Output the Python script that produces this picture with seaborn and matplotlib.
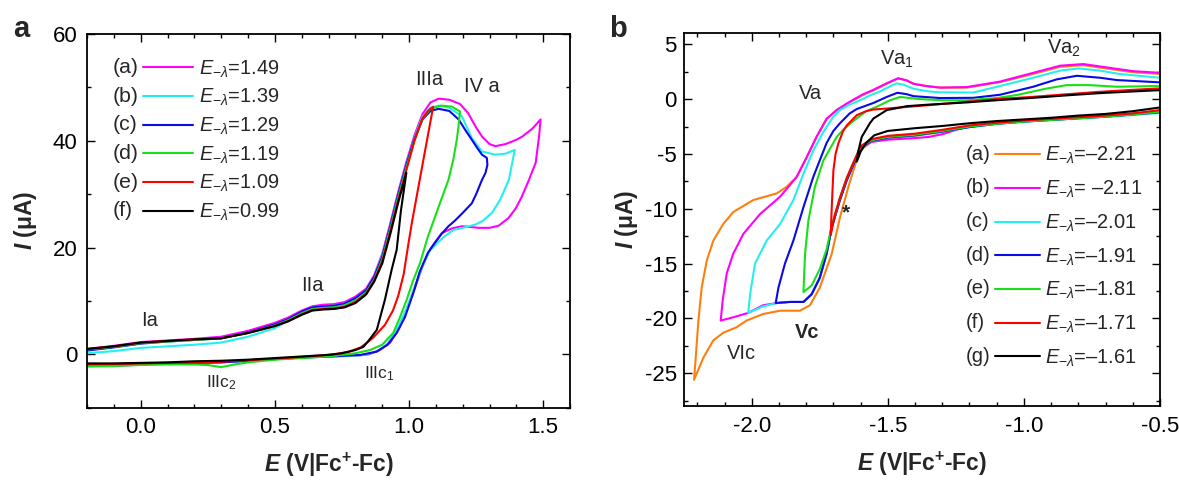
import matplotlib
matplotlib.use("Agg")
import matplotlib.pyplot as plt
import seaborn as sns
from matplotlib.ticker import MultipleLocator, FormatStrFormatter

# ---------------- Panel a data (E in V, I in uA) ----------------
A_TAGS = ["(a)", "(b)", "(c)", "(d)", "(e)", "(f)"]
A_LAMBDA = ["1.49", "1.39", "1.29", "1.19", "1.09", "0.99"]
A_COLORS = ["#ff00ff", "#22f0f0", "#0a0ae6", "#18e018", "#ff0000", "#000000"]

A1_E = [-0.2, -0.1, 0.0, 0.1, 0.2, 0.3, 0.4, 0.5, 0.55, 0.6, 0.64, 0.68, 0.72, 0.76, 0.8,
        0.84, 0.87, 0.9, 0.93, 0.96, 0.99, 1.02, 1.05, 1.08, 1.11, 1.15, 1.19, 1.22, 1.25,
        1.272, 1.3, 1.322, 1.36, 1.4, 1.422, 1.46, 1.49,
        1.485, 1.472, 1.447, 1.42, 1.397, 1.37, 1.334, 1.3, 1.259, 1.22, 1.197, 1.16, 1.122,
        1.1, 1.078, 1.05, 1.028, 1.0, 0.966, 0.93, 0.891, 0.85, 0.791, 0.7, 0.6, 0.5, 0.4,
        0.3, 0.2, 0.1, 0.0, -0.1, -0.2]
A1_I = [1.0, 1.6, 2.3, 2.6, 2.9, 3.3, 4.4, 5.9, 6.9, 8.2, 9.0, 9.3, 9.4, 9.8, 10.8,
        12.3, 14.8, 18.8, 24.5, 30.5, 36.0, 41.0, 45.0, 47.2, 47.9, 47.7, 46.9, 45.2, 42.5,
        40.8, 39.4, 39.0, 39.4, 40.2, 40.8, 42.3, 44.0,
        41.0, 35.9, 32.7, 29.5, 27.3, 25.5, 24.1, 23.7, 23.7, 23.9, 24.0, 23.6, 22.7,
        21.2, 19.6, 16.5, 13.3, 9.5, 5.2, 2.2, 0.8, 0.0, -0.3, -0.4, -0.6, -0.9, -1.2,
        -1.5, -1.6, -1.7, -1.9, -2.2, -2.0]

A2_E = [-0.2, -0.1, 0.0, 0.1, 0.2, 0.3, 0.4, 0.5, 0.55, 0.6, 0.64, 0.68, 0.72, 0.76, 0.8,
        0.84, 0.87, 0.9, 0.93, 0.96, 0.99, 1.02, 1.05, 1.08, 1.11, 1.15, 1.197, 1.234, 1.272,
        1.322, 1.36, 1.394,
        1.385, 1.372, 1.34, 1.309, 1.275, 1.247, 1.2, 1.165, 1.13, 1.1, 1.075, 1.045, 1.02,
        0.99, 0.96, 0.92, 0.88, 0.82, 0.7, 0.6, 0.5, 0.4, 0.3, 0.2, 0.1, 0.0, -0.1, -0.2]
A2_I = [0.2, 0.6, 1.2, 1.5, 1.8, 2.2, 3.3, 4.9, 6.3, 7.8, 8.8, 9.0, 9.1, 9.5, 10.4,
        12.0, 14.5, 18.5, 24.0, 30.0, 35.5, 40.5, 44.5, 46.2, 46.6, 46.2, 44.6, 40.5, 38.0,
        37.4, 37.6, 38.3,
        36.0, 32.7, 29.0, 26.5, 25.0, 24.3, 23.7, 23.3, 22.0, 20.6, 19.3, 15.8, 12.5,
        8.5, 5.2, 2.0, 0.5, -0.2, -0.4, -0.6, -0.9, -1.2, -1.5, -1.6, -1.7, -1.8, -2.0, -2.0]

A3_E = [-0.2, -0.1, 0.0, 0.1, 0.2, 0.3, 0.4, 0.5, 0.55, 0.6, 0.64, 0.68, 0.72, 0.76, 0.8,
        0.84, 0.87, 0.9, 0.93, 0.96, 0.99, 1.02, 1.05, 1.08, 1.11, 1.15, 1.185, 1.21, 1.234,
        1.255, 1.272, 1.29,
        1.292, 1.285, 1.272, 1.25, 1.234, 1.2, 1.17, 1.147, 1.12, 1.095, 1.07, 1.04, 1.016,
        0.985, 0.954, 0.92, 0.879, 0.82, 0.7, 0.6, 0.5, 0.4, 0.3, 0.2, 0.1, 0.0, -0.1, -0.2]
A3_I = [0.7, 1.3, 2.0, 2.4, 2.7, 3.0, 4.1, 5.6, 6.6, 8.0, 8.8, 9.0, 9.1, 9.5, 10.5,
        12.0, 14.5, 18.3, 24.0, 30.0, 35.5, 40.3, 44.0, 45.6, 46.0, 45.6, 44.0, 42.0, 40.2,
        38.6, 37.4, 36.8,
        35.5, 34.0, 32.7, 30.0, 28.3, 26.5, 25.0, 24.0, 22.5, 20.8, 19.0, 15.5, 11.5,
        7.0, 4.0, 1.8, 0.5, -0.1, -0.4, -0.6, -0.9, -1.2, -1.5, -1.6, -1.7, -1.8, -1.9, -1.9]

A4_E = [-0.2, -0.1, 0.0, 0.1, 0.2, 0.3, 0.4, 0.5, 0.55, 0.6, 0.64, 0.68, 0.72, 0.76, 0.8,
        0.84, 0.87, 0.9, 0.93, 0.96, 0.99, 1.02, 1.05, 1.08, 1.12, 1.16, 1.19,
        1.185, 1.178, 1.165, 1.147, 1.12, 1.097, 1.07, 1.041, 1.015, 0.991, 0.965, 0.941,
        0.9, 0.854, 0.8, 0.7, 0.6, 0.5, 0.4, 0.35, 0.3, 0.25, 0.2, 0.1, 0.0, -0.1, -0.2]
A4_I = [0.9, 1.4, 2.1, 2.4, 2.7, 3.0, 4.0, 5.4, 6.4, 7.7, 8.5, 8.7, 8.8, 9.2, 10.1,
        11.6, 14.0, 17.8, 23.5, 29.5, 35.0, 40.0, 44.2, 46.0, 46.6, 46.4, 45.5,
        43.0, 40.2, 36.5, 32.7, 29.0, 25.8, 22.0, 17.1, 13.8, 10.2, 6.8, 4.0,
        1.8, 0.8, 0.2, -0.4, -0.7, -1.0, -1.5, -1.9, -2.4, -2.0, -1.9, -1.9, -2.0, -2.2, -2.3]

A5_E = [-0.2, -0.1, 0.0, 0.1, 0.2, 0.3, 0.4, 0.5, 0.55, 0.6, 0.64, 0.68, 0.72, 0.76, 0.8,
        0.84, 0.87, 0.9, 0.93, 0.96, 0.99, 1.02, 1.05, 1.07, 1.09,
        1.075, 1.053, 1.03, 1.01, 0.997, 0.98, 0.96, 0.94, 0.91, 0.866, 0.82, 0.777,
        0.72, 0.6, 0.5, 0.4, 0.3, 0.2, 0.1, 0.0, -0.1, -0.2]
A5_I = [1.0, 1.5, 2.2, 2.5, 2.8, 3.0, 4.0, 5.3, 6.2, 7.5, 8.3, 8.5, 8.6, 8.9, 9.8,
        11.4, 13.8, 17.4, 23.0, 29.0, 34.5, 40.0, 44.2, 45.6, 46.4,
        42.3, 36.3, 30.0, 24.5, 20.5, 15.0, 11.0, 8.2, 5.5, 3.1, 1.3, 0.5,
        0.0, -0.5, -0.8, -1.1, -1.4, -1.5, -1.6, -1.7, -1.8, -1.8]

A6_E = [-0.2, -0.1, 0.0, 0.1, 0.2, 0.3, 0.4, 0.5, 0.55, 0.6, 0.64, 0.68, 0.72, 0.76, 0.8,
        0.84, 0.87, 0.9, 0.93, 0.96, 0.99,
        0.97, 0.954, 0.935, 0.91, 0.88, 0.85, 0.83, 0.8, 0.75, 0.7, 0.6, 0.5, 0.4, 0.3,
        0.2, 0.1, 0.0, -0.1, -0.2]
A6_I = [1.0, 1.5, 2.2, 2.5, 2.8, 3.0, 4.0, 5.3, 6.2, 7.4, 8.2, 8.4, 8.5, 8.8, 9.6,
        11.2, 13.6, 17.0, 22.5, 28.5, 34.0,
        27.0, 19.6, 15.8, 10.2, 4.6, 2.6, 1.4, 0.8, 0.2, -0.1, -0.4, -0.7, -1.0, -1.2,
        -1.3, -1.5, -1.6, -1.7, -1.7]

# ---------------- Panel b data ----------------
B_TAGS = ["(a)", "(b)", "(c)", "(d)", "(e)", "(f)", "(g)"]
B_LAMBDA = ["\u20132.21", " \u20132.11", "\u20132.01", "\u20131.91", "\u20131.81", "\u20131.71", "\u20131.61"]
B_COLORS = ["#ff7f0e", "#ff00ff", "#22f0f0", "#0a0ae6", "#18e018", "#ff0000", "#000000"]

B1_E = [-0.5, -0.6, -0.7, -0.8, -0.9, -1.0, -1.1, -1.2, -1.3, -1.4, -1.5, -1.56, -1.6, -1.614,
        -1.645, -1.676, -1.706, -1.75, -1.786, -1.823, -1.86, -1.896, -1.958, -2.019, -2.055,
        -2.104, -2.141, -2.178, -2.212,
        -2.205, -2.196, -2.184, -2.165, -2.141, -2.105, -2.068, -1.994, -1.908, -1.872, -1.835,
        -1.798, -1.761, -1.725, -1.688, -1.65, -1.627, -1.59, -1.553, -1.504, -1.462, -1.43,
        -1.406, -1.36, -1.308, -1.21, -1.088, -0.966, -0.867, -0.782, -0.684, -0.598, -0.5]
B1_I = [-1.1, -1.35, -1.55, -1.7, -1.85, -2.0, -2.2, -2.5, -3.0, -3.35, -3.55, -3.9, -4.6, -5.5,
        -8.0, -10.8, -14.1, -17.2, -18.8, -19.3, -19.3, -19.3, -19.6, -20.2, -20.8,
        -21.3, -22.0, -23.6, -25.6,
        -23.3, -20.2, -17.2, -14.7, -12.9, -11.4, -10.3, -9.2, -8.6, -8.0, -7.1,
        -5.3, -3.4, -1.8, -1.0, -0.4, -0.1, 0.4, 0.8, 1.4, 1.9, 1.7,
        1.4, 1.2, 1.05, 1.05, 1.55, 2.3, 2.95, 3.1, 2.75, 2.45, 2.3]

B2_E = [-0.5, -0.6, -0.7, -0.8, -0.9, -1.0, -1.1, -1.2, -1.25, -1.3, -1.35, -1.4, -1.5, -1.56,
        -1.6, -1.614, -1.632, -1.651, -1.676, -1.706, -1.725, -1.75, -1.78, -1.81, -1.86,
        -1.908, -1.958, -2.013, -2.068, -2.114,
        -2.107, -2.092, -2.068, -2.031, -1.97, -1.896, -1.872, -1.835, -1.798, -1.761, -1.725,
        -1.688, -1.65, -1.627, -1.59, -1.553, -1.504, -1.462, -1.43, -1.406, -1.36, -1.308,
        -1.21, -1.088, -0.966, -0.867, -0.782, -0.684, -0.598, -0.5]
B2_I = [-1.1, -1.35, -1.55, -1.7, -1.85, -2.0, -2.2, -2.5, -2.8, -3.2, -3.45, -3.55, -3.7, -3.9,
        -4.5, -5.3, -6.3, -7.4, -9.2, -11.7, -14.1, -16.3, -17.8, -18.5, -18.5,
        -18.6, -18.8, -19.5, -19.9, -20.2,
        -18.4, -15.9, -14.1, -12.3, -10.5, -8.9, -8.2, -7.1, -5.3, -3.4, -1.8,
        -1.0, -0.4, -0.05, 0.45, 0.85, 1.45, 1.9, 1.7, 1.4, 1.2, 1.05,
        1.1, 1.6, 2.4, 3.05, 3.2, 2.85, 2.55, 2.4]

B3_E = [-0.5, -0.6, -0.7, -0.8, -0.9, -1.0, -1.1, -1.2, -1.3, -1.4, -1.5, -1.56, -1.6, -1.614,
        -1.632, -1.651, -1.676, -1.706, -1.725, -1.75, -1.78, -1.81, -1.86, -1.908, -1.958, -2.013,
        -2.006, -1.988, -1.945, -1.896, -1.847, -1.81, -1.774, -1.737, -1.70, -1.676, -1.64,
        -1.602, -1.565, -1.529, -1.49, -1.467, -1.44, -1.406, -1.35, -1.308, -1.186, -1.088,
        -0.966, -0.867, -0.8, -0.72, -0.65, -0.5]
B3_I = [-1.25, -1.45, -1.6, -1.75, -1.9, -2.05, -2.25, -2.55, -2.95, -3.3, -3.5, -3.8, -4.4, -5.3,
        -6.3, -7.4, -9.2, -11.7, -14.1, -16.3, -17.8, -18.5, -18.5, -18.6, -18.9, -19.5,
        -17.8, -15.0, -12.9, -11.4, -9.2, -6.8, -4.7, -3.0, -1.6, -1.0, -0.5,
        -0.1, 0.35, 0.7, 1.2, 1.44, 1.3, 0.95, 0.7, 0.62, 0.6, 1.2,
        1.95, 2.6, 2.8, 2.6, 2.3, 1.95]

B4_E = [-0.5, -0.6, -0.7, -0.8, -0.9, -1.0, -1.1, -1.2, -1.3, -1.4, -1.5, -1.56, -1.6, -1.614,
        -1.632, -1.651, -1.676, -1.706, -1.725, -1.75, -1.78, -1.81, -1.86, -1.912,
        -1.902, -1.878, -1.847, -1.81, -1.774, -1.725, -1.7, -1.676, -1.64, -1.614, -1.553,
        -1.504, -1.465, -1.43, -1.406, -1.308, -1.186, -1.088, -0.966, -0.88, -0.806, -0.72,
        -0.659, -0.5]
B4_I = [-1.2, -1.4, -1.6, -1.75, -1.9, -2.05, -2.25, -2.55, -2.95, -3.3, -3.5, -3.8, -4.4, -5.3,
        -6.3, -7.4, -9.2, -11.7, -14.1, -16.3, -17.8, -18.5, -18.5, -18.6,
        -17.2, -15.0, -12.9, -9.85, -7.1, -4.0, -2.9, -2.2, -1.3, -0.9, -0.35,
        0.2, 0.58, 0.45, 0.27, 0.1, 0.12, 0.4, 1.13, 1.8, 2.13, 1.95,
        1.74, 1.53]

B5_E = [-0.5, -0.6, -0.7, -0.8, -0.9, -1.0, -1.1, -1.2, -1.3, -1.4, -1.5, -1.56, -1.6, -1.614,
        -1.632, -1.651, -1.676, -1.706, -1.725, -1.75, -1.78, -1.81,
        -1.808, -1.804, -1.792, -1.768, -1.737, -1.688, -1.664, -1.627, -1.58, -1.541, -1.492,
        -1.455, -1.42, -1.381, -1.3, -1.21, -1.1, -1.027, -0.92, -0.843, -0.76, -0.659, -0.5]
B5_I = [-1.15, -1.4, -1.6, -1.75, -1.9, -2.05, -2.25, -2.5, -2.9, -3.25, -3.45, -3.75, -4.3, -5.1,
        -6.1, -7.2, -9.0, -11.5, -13.7, -15.5, -17.0, -17.6,
        -16.3, -14.1, -11.1, -8.0, -5.6, -3.45, -2.8, -2.0, -1.1, -0.7, -0.1,
        0.2, 0.1, 0.0, -0.1, -0.1, 0.1, 0.37, 0.95, 1.28, 1.28, 1.13, 1.2]

B6_E = [-0.5, -0.6, -0.7, -0.8, -0.9, -1.0, -1.1, -1.2, -1.3, -1.4, -1.5, -1.56, -1.6, -1.614,
        -1.632, -1.651, -1.676, -1.695, -1.71,
        -1.706, -1.70, -1.692, -1.682, -1.664, -1.651, -1.614, -1.58, -1.553, -1.5, -1.455,
        -1.35, -1.21, -1.1, -0.966, -0.84, -0.72, -0.6, -0.5]
B6_I = [-1.0, -1.3, -1.5, -1.65, -1.8, -1.95, -2.15, -2.4, -2.8, -3.15, -3.35, -3.65, -4.3, -5.1,
        -6.1, -7.2, -9.0, -10.6, -12.4,
        -9.85, -6.5, -5.0, -4.05, -2.9, -2.4, -1.46, -1.1, -0.95, -0.85, -0.76,
        -0.55, -0.24, 0.0, 0.21, 0.45, 0.67, 0.85, 0.98]

B7_E = [-0.5, -0.6, -0.7, -0.8, -0.9, -1.0, -1.1, -1.2, -1.3, -1.4, -1.5, -1.55, -1.58, -1.6,
        -1.614,
        -1.608, -1.596, -1.566, -1.553, -1.504, -1.43, -1.35, -1.21, -1.1, -0.966, -0.84,
        -0.72, -0.6, -0.5]
B7_I = [-0.76, -1.1, -1.35, -1.5, -1.7, -1.85, -2.0, -2.2, -2.45, -2.65, -2.9, -3.3, -4.0, -4.8,
        -5.7,
        -4.7, -3.45, -2.2, -1.77, -1.0, -0.64, -0.5, -0.3, -0.1, 0.12, 0.35,
        0.55, 0.7, 0.82]

A_CURVES = [(A1_E, A1_I), (A2_E, A2_I), (A3_E, A3_I), (A4_E, A4_I), (A5_E, A5_I), (A6_E, A6_I)]
B_CURVES = [(B1_E, B1_I), (B2_E, B2_I), (B3_E, B3_I), (B4_E, B4_I), (B5_E, B5_I),
            (B6_E, B6_I), (B7_E, B7_I)]

# ---------------- Style ----------------
sns.set_theme(style="ticks")
FONT = "Liberation Sans"
plt.rcParams["font.family"] = [FONT, "DejaVu Sans"]
plt.rcParams["mathtext.fontset"] = "custom"
plt.rcParams["mathtext.rm"] = FONT
plt.rcParams["mathtext.it"] = FONT + ":italic"
plt.rcParams["mathtext.bf"] = FONT + ":bold"
plt.rcParams["mathtext.bfit"] = FONT + ":bold:italic"
plt.rcParams["axes.unicode_minus"] = False

FS = 14.4      # legend / annotation text
TFS = 16.0     # tick labels
LFS = 16.4     # axis labels
fig = plt.figure(figsize=(11.79, 4.8), dpi=100)
axA = fig.add_axes([0.0738, 0.1506, 0.4097, 0.7784])
axB = fig.add_axes([0.5799, 0.1540, 0.4040, 0.7765])


def style(ax):
    for sp in ax.spines.values():
        sp.set_visible(True)
        sp.set_linewidth(1.3)
        sp.set_color("black")
    ax.tick_params(which="both", direction="in", top=True, right=True,
                   width=1.0, color="black", labelsize=TFS, labelcolor="black")
    ax.tick_params(which="major", length=5.5, pad=7)
    ax.tick_params(which="minor", length=2.8)


def draw(ax, curves, colors, lw):
    handles = []
    for (e, i), c in zip(curves, colors):
        assert len(e) == len(i)
        sns.lineplot(x=e, y=i, sort=False, estimator=None, color=c, lw=lw, ax=ax)
        handles.append(ax.lines[-1])
    return handles


def legend(ax, handles, tags, vals, anchor, hlen, tpad, lspace, back, tagfs):
    labels = [r"$\mathit{E}_{-\lambda}$=" + v for v in vals]
    leg = ax.legend(handles, labels, loc="upper left", bbox_to_anchor=anchor,
                    frameon=False, fontsize=FS, handlelength=hlen, handletextpad=tpad,
                    labelspacing=lspace, borderpad=0, borderaxespad=0)
    for h, t in zip(leg.legend_handles, tags):
        ax.annotate(t, xy=(0, 0.5), xycoords=h, xytext=(-back, 0),
                    textcoords="offset points", ha="left", va="center",
                    fontsize=tagfs, zorder=6, annotation_clip=False)


# ---------------- Panel a ----------------
hA = draw(axA, A_CURVES, A_COLORS, 1.5)
style(axA)
axA.set_xlim(-0.2, 1.6)
axA.set_ylim(-10, 60)
axA.xaxis.set_major_locator(MultipleLocator(0.5))
axA.xaxis.set_minor_locator(MultipleLocator(0.1))
axA.yaxis.set_major_locator(MultipleLocator(20))
axA.yaxis.set_minor_locator(MultipleLocator(10))
axA.xaxis.set_major_formatter(FormatStrFormatter("%.1f"))
axA.yaxis.set_major_formatter(FormatStrFormatter("%d"))
axA.set_xlabel(r"$\mathbfit{E}$ (V|Fc$^{\mathbf{+}}$-Fc)", fontsize=LFS, fontweight="bold", labelpad=9)
axA.set_ylabel(r"$\mathbfit{I}$ ($\mathbf{\mu}$A)", fontsize=LFS, fontweight="bold", labelpad=10)
legend(axA, hA, A_TAGS, A_LAMBDA, (0.116, 0.935), 2.5, 0.3, 0.37, 21.6, 15.3)

axA.text(0.033, 5.3, "Ia", fontsize=FS, ha="center", va="baseline")
axA.text(0.64, 11.9, "IIa", fontsize=FS, ha="center", va="baseline")
axA.text(1.074, 50.4, "IIIa", fontsize=FS, ha="center", va="baseline")
axA.text(1.27, 49.1, "IV a", fontsize=FS, ha="center", va="baseline")
axA.text(0.30, -6.1, r"IIIc$_2$", fontsize=12.5, ha="center", va="baseline")
axA.text(0.888, -4.5, r"IIIc$_1$", fontsize=12.5, ha="center", va="baseline")

# ---------------- Panel b ----------------
hB = draw(axB, B_CURVES, B_COLORS, 1.5)
style(axB)
axB.tick_params(which="major", axis="y", pad=5)
axB.set_xlim(-2.25, -0.5)
axB.set_ylim(-28, 6)
axB.xaxis.set_major_locator(MultipleLocator(0.5))
axB.xaxis.set_minor_locator(MultipleLocator(0.1))
axB.yaxis.set_major_locator(MultipleLocator(5))
axB.yaxis.set_minor_locator(MultipleLocator(2.5))
axB.xaxis.set_major_formatter(FormatStrFormatter("%.1f"))
axB.yaxis.set_major_formatter(FormatStrFormatter("%d"))
axB.set_xlabel(r"$\mathbfit{E}$ (V|Fc$^{\mathbf{+}}$-Fc)", fontsize=LFS, fontweight="bold", labelpad=9)
axB.set_ylabel(r"$\mathbfit{I}$ ($\mathbf{\mu}$A)", fontsize=LFS, fontweight="bold", labelpad=3)
legend(axB, hB, B_TAGS, B_LAMBDA, (0.654, 0.70), 2.25, 0.25, 0.62, 20.9, 14.6)

axB.text(-1.784, -0.03, "Va", fontsize=FS, ha="center", va="baseline")
axB.text(-1.465, 3.17, r"Va$_1$", fontsize=FS, ha="center", va="baseline")
axB.text(-0.855, 4.1, r"Va$_2$", fontsize=FS, ha="center", va="baseline")
axB.text(-1.795, -21.75, "Vc", fontsize=FS, fontweight="bold", ha="center", va="baseline")
axB.text(-2.037, -23.7, "VIc", fontsize=FS, ha="center", va="baseline")
axB.text(-1.654, -10.4, "*", fontsize=15, fontweight="bold", ha="center", va="center")

fig.text(0.0115, 0.923, "a", fontsize=21, fontweight="bold", va="baseline", ha="left")
fig.text(0.5165, 0.923, "b", fontsize=21, fontweight="bold", va="baseline", ha="left")

fig.savefig("out.png", dpi=100)
